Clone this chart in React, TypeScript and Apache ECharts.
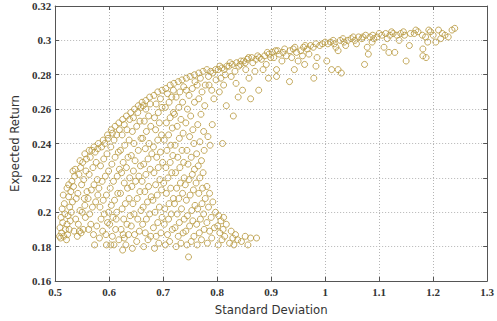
import React, { useEffect, useRef } from "react";
import * as echarts from "echarts";

// Portfolio simulations: [standard deviation, expected return]
const leftLobe: [number, number][] = [
  [0.508,0.186],[0.51,0.185],[0.512,0.188],[0.509,0.191],[0.514,0.194],[0.511,0.197],[0.516,0.186],[0.518,0.199],[0.513,0.202],[0.517,0.205],[0.519,0.19],[0.515,0.21],
  [0.521,0.184],[0.523,0.187],[0.526,0.19],[0.522,0.193],[0.528,0.195],[0.524,0.198],[0.53,0.2],[0.527,0.203],[0.532,0.206],[0.525,0.209],[0.529,0.212],[0.534,0.215],[0.531,0.218],[0.536,0.221],[0.538,0.196],[0.535,0.189],[0.539,0.208],[0.533,0.224],[0.522,0.214],
  [0.541,0.186],[0.545,0.189],[0.548,0.188],[0.552,0.19],[0.543,0.193],[0.55,0.2],[0.546,0.201],[0.555,0.204],[0.542,0.211],[0.549,0.216],[0.553,0.219],[0.544,0.222],[0.557,0.224],[0.547,0.226],[0.551,0.229],[0.558,0.231],[0.556,0.197],[0.559,0.212],[0.554,0.208],
  [0.573,0.181],[0.562,0.19],[0.566,0.193],[0.571,0.187],[0.577,0.192],[0.564,0.199],[0.569,0.203],[0.575,0.206],[0.561,0.208],[0.567,0.213],[0.572,0.216],[0.578,0.219],[0.563,0.222],[0.57,0.226],[0.576,0.229],[0.565,0.232],[0.574,0.235],[0.579,0.237],[0.568,0.236],[0.579,0.21],
  [0.582,0.185],[0.588,0.189],[0.594,0.187],[0.585,0.196],[0.591,0.199],[0.597,0.194],[0.583,0.203],[0.589,0.207],[0.595,0.21],[0.581,0.214],[0.587,0.218],[0.593,0.221],[0.599,0.224],[0.584,0.227],[0.59,0.231],[0.596,0.234],[0.586,0.238],[0.592,0.24],[0.598,0.243],[0.595,0.181],[0.599,0.2],
  [0.603,0.181],[0.609,0.181],[0.606,0.186],[0.612,0.19],[0.618,0.184],[0.601,0.193],[0.607,0.197],[0.614,0.2],[0.604,0.204],[0.61,0.207],[0.616,0.211],[0.602,0.214],[0.608,0.218],[0.615,0.221],[0.619,0.225],[0.605,0.228],[0.611,0.232],[0.617,0.235],[0.603,0.238],[0.609,0.242],[0.614,0.245],[0.619,0.248],[0.606,0.246],[0.613,0.196],
  [0.625,0.178],[0.631,0.181],[0.628,0.185],[0.636,0.187],[0.622,0.19],[0.633,0.193],[0.627,0.196],[0.639,0.198],[0.624,0.202],[0.63,0.205],[0.637,0.208],[0.621,0.211],[0.634,0.214],[0.628,0.217],[0.638,0.22],[0.623,0.223],[0.632,0.226],[0.626,0.229],[0.635,0.232],[0.621,0.236],[0.629,0.239],[0.637,0.242],[0.624,0.245],[0.633,0.248],[0.628,0.251],[0.638,0.254],[0.626,0.187],
  [0.643,0.179],[0.651,0.183],[0.647,0.187],[0.656,0.189],[0.641,0.192],[0.653,0.196],[0.646,0.199],[0.659,0.201],[0.644,0.205],[0.652,0.208],[0.657,0.212],[0.642,0.215],[0.649,0.218],[0.655,0.221],[0.645,0.224],[0.658,0.227],[0.648,0.23],[0.641,0.233],[0.654,0.236],[0.646,0.24],[0.659,0.243],[0.643,0.247],[0.651,0.25],[0.657,0.253],[0.645,0.255],[0.653,0.258],[0.659,0.261],
  [0.664,0.18],[0.672,0.184],[0.667,0.188],[0.677,0.186],[0.662,0.193],[0.669,0.196],[0.675,0.199],[0.663,0.203],[0.671,0.206],[0.678,0.209],[0.666,0.212],[0.673,0.215],[0.661,0.218],[0.668,0.222],[0.676,0.225],[0.664,0.228],[0.672,0.231],[0.679,0.234],[0.667,0.237],[0.674,0.24],[0.662,0.243],[0.669,0.247],[0.677,0.25],[0.665,0.253],[0.673,0.256],[0.668,0.26],[0.676,0.263],[0.663,0.262],
  [0.684,0.179],[0.692,0.182],[0.687,0.186],[0.696,0.188],[0.682,0.191],[0.69,0.194],[0.698,0.197],[0.685,0.2],[0.693,0.203],[0.681,0.207],[0.689,0.21],[0.697,0.213],[0.686,0.216],[0.694,0.219],[0.683,0.223],[0.691,0.226],[0.699,0.229],[0.688,0.232],[0.695,0.235],[0.682,0.238],[0.69,0.242],[0.697,0.245],[0.686,0.248],[0.693,0.252],[0.684,0.255],[0.691,0.258],[0.698,0.261],[0.687,0.263],[0.695,0.266],
  [0.704,0.181],[0.712,0.183],[0.708,0.187],[0.717,0.19],[0.702,0.193],[0.71,0.196],[0.715,0.199],[0.703,0.202],[0.711,0.205],[0.719,0.208],[0.706,0.211],[0.714,0.214],[0.701,0.217],[0.709,0.22],[0.716,0.223],[0.705,0.226],[0.713,0.229],[0.718,0.233],[0.707,0.236],[0.714,0.239],[0.702,0.242],[0.71,0.245],[0.717,0.249],[0.706,0.252],[0.713,0.255],[0.719,0.258],[0.704,0.261],[0.711,0.264],[0.716,0.267],[0.708,0.269],[0.719,0.271],
  [0.724,0.18],[0.733,0.182],[0.728,0.186],[0.737,0.188],[0.722,0.191],[0.73,0.194],[0.739,0.196],[0.726,0.199],[0.734,0.202],[0.721,0.205],[0.729,0.208],[0.736,0.211],[0.725,0.214],[0.732,0.217],[0.739,0.22],[0.723,0.223],[0.731,0.226],[0.738,0.229],[0.727,0.232],[0.735,0.236],[0.722,0.239],[0.73,0.243],[0.737,0.246],[0.726,0.25],[0.733,0.254],[0.721,0.257],[0.729,0.261],[0.736,0.264],[0.724,0.267],[0.731,0.27],[0.738,0.273],
  [0.747,0.174],[0.744,0.181],[0.752,0.183],[0.757,0.186],[0.742,0.189],[0.749,0.192],[0.755,0.195],[0.745,0.198],[0.753,0.201],[0.759,0.204],[0.743,0.207],[0.75,0.21],[0.756,0.213],[0.741,0.216],[0.748,0.219],[0.754,0.222],[0.758,0.225],[0.746,0.228],[0.752,0.232],[0.744,0.236],[0.757,0.24],[0.749,0.244],[0.755,0.248],[0.742,0.252],[0.751,0.256],[0.745,0.26],[0.758,0.264],[0.748,0.268],[0.754,0.272],[0.743,0.271],[0.759,0.276],
  [0.763,0.181],[0.771,0.184],[0.767,0.188],[0.776,0.19],[0.762,0.193],[0.769,0.196],[0.775,0.199],[0.764,0.202],[0.772,0.205],[0.778,0.208],[0.766,0.211],[0.773,0.214],[0.761,0.217],[0.768,0.22],[0.774,0.223],[0.765,0.227],[0.771,0.23],[0.762,0.234],[0.776,0.236],[0.768,0.241],[0.775,0.247],[0.764,0.251],[0.77,0.257],[0.777,0.262],[0.766,0.266],[0.772,0.27],[0.778,0.274],[0.763,0.274],[0.769,0.278],
];

// Lower-right tail of the low-return branch
const lowerTail: [number, number][] = [
  [0.782,0.182],[0.79,0.185],[0.786,0.189],[0.795,0.191],[0.781,0.194],[0.789,0.197],[0.797,0.2],[0.784,0.203],[0.792,0.206],[0.786,0.211],[0.781,0.215],
  [0.787,0.239],[0.783,0.244],[0.791,0.251],[0.81,0.24],
  [0.802,0.181],[0.809,0.184],[0.805,0.188],[0.814,0.186],[0.801,0.192],[0.811,0.19],[0.807,0.195],[0.817,0.193],[0.803,0.198],[0.812,0.197],
  [0.823,0.182],[0.829,0.185],[0.834,0.187],[0.826,0.189],[0.838,0.184],[0.831,0.181],
  [0.845,0.183],[0.852,0.186],[0.857,0.181],[0.862,0.185],[0.873,0.185],
];

// Upper branch below the frontier
const upperBranch: [number, number][] = [
  [0.785,0.274],[0.79,0.271],[0.794,0.266],[0.798,0.277],[0.784,0.279],[0.792,0.281],[0.797,0.283],[0.788,0.282],
  [0.817,0.262],[0.804,0.27],[0.812,0.274],[0.807,0.278],[0.815,0.28],[0.802,0.283],[0.809,0.284],[0.818,0.285],[0.813,0.283],
  [0.83,0.256],[0.839,0.267],[0.835,0.275],[0.826,0.279],[0.833,0.282],[0.822,0.285],[0.828,0.286],[0.836,0.287],[0.84,0.285],
  [0.859,0.278],[0.847,0.271],[0.853,0.283],[0.843,0.286],[0.849,0.288],[0.856,0.289],[0.852,0.287],
  [0.862,0.266],[0.877,0.271],[0.87,0.282],[0.866,0.287],[0.872,0.289],[0.878,0.29],[0.864,0.29],
  [0.895,0.278],[0.885,0.283],[0.891,0.286],[0.882,0.289],[0.888,0.291],[0.896,0.292],[0.899,0.29],
  [0.91,0.283],[0.91,0.279],[0.934,0.276],[0.943,0.283],[0.95,0.288],[0.905,0.29],[0.915,0.292],[0.922,0.293],[0.928,0.291],[0.935,0.294],[0.941,0.295],[0.947,0.293],[0.92,0.288],[0.902,0.293],[0.938,0.29],[0.912,0.294],
  [0.979,0.278],[0.983,0.285],[0.985,0.29],[0.962,0.286],[0.955,0.294],[0.96,0.296],[0.967,0.295],[0.973,0.297],[0.978,0.296],[0.99,0.297],[0.995,0.298],[0.97,0.292],[0.958,0.291],
  [1.003,0.288],[1.012,0.283],[1.024,0.283],[1.03,0.281],[1.024,0.294],[1.005,0.298],[1.01,0.299],[1.017,0.298],[1.028,0.3],[1.035,0.299],[1.042,0.3],[1.048,0.301],[1.02,0.296],[1.038,0.297],
  [1.073,0.286],[1.078,0.296],[1.08,0.292],[1.055,0.3],[1.062,0.302],[1.068,0.301],[1.075,0.303],[1.083,0.302],[1.09,0.301],[1.096,0.302],[1.058,0.298],[1.087,0.299],
  [1.109,0.296],[1.118,0.293],[1.129,0.293],[1.105,0.303],[1.112,0.304],[1.12,0.303],[1.126,0.304],[1.133,0.303],[1.14,0.304],[1.147,0.303],[1.115,0.301],[1.137,0.3],
  [1.15,0.288],[1.156,0.297],[1.181,0.295],[1.181,0.291],[1.187,0.29],[1.19,0.299],[1.158,0.304],[1.165,0.304],[1.172,0.305],[1.18,0.303],[1.186,0.302],[1.195,0.305],
  [1.205,0.299],[1.21,0.306],[1.217,0.304],[1.222,0.303],[1.228,0.302],[1.235,0.306],[1.24,0.307],[1.2,0.303],[1.214,0.301],
];

// Portfolios lying on the efficient frontier
const frontier: [number, number][] = [
  [0.525,0.216],[0.537,0.225],[0.546,0.23],[0.555,0.234],[0.563,0.236],[0.572,0.238],[0.58,0.24],[0.589,0.242],[0.597,0.245],[0.604,0.248],[0.611,0.25],[0.618,0.252],[0.625,0.254],[0.632,0.256],[0.64,0.258],[0.647,0.26],[0.654,0.262],[0.661,0.264],[0.668,0.265],[0.675,0.267],[0.683,0.268],[0.69,0.27],[0.698,0.271],[0.705,0.272],[0.713,0.274],[0.72,0.275],[0.728,0.276],[0.735,0.277],[0.743,0.278],[0.75,0.279],[0.758,0.28],[0.766,0.281],[0.774,0.282],[0.781,0.283],
  [0.805,0.285],[0.824,0.287],[0.844,0.288],[0.858,0.29],[0.875,0.291],[0.893,0.293],[0.908,0.294],[0.925,0.295],[0.944,0.296],[0.963,0.297],[0.983,0.298],[1.0,0.299],[1.015,0.3],[1.033,0.301],[1.052,0.302],[1.07,0.302],[1.088,0.303],[1.1,0.304],[1.123,0.305],[1.145,0.305],[1.168,0.306],[1.192,0.306],
];

const xRange = { min: 0.5, max: 1.3, step: 0.1 };
const yRange = { min: 0.16, max: 0.32, step: 0.02 };

const markerColor = "#b89a42";
const tickFont = "Liberation Serif";
const nameFont = "'DejaVu Sans Condensed', 'Liberation Sans Narrow', 'Roboto Condensed', 'DejaVu Sans', sans-serif";

export default function App() {
  const ref = useRef<HTMLDivElement>(null);

  useEffect(() => {
    if (!ref.current) return;
    const chart = echarts.init(ref.current, undefined, { renderer: "svg" });
    const points = [...leftLobe, ...lowerTail, ...upperBranch, ...frontier];

    const frameLine = { show: true, lineStyle: { color: "#555", width: 1 } };
    const gridLine = { show: true, lineStyle: { color: "#b5b5b5", type: [1, 2] as number[], width: 1 } };
    const innerTick = { show: true, inside: true, length: 4, lineStyle: { color: "#555" } };

    chart.setOption({
      animation: false,
      backgroundColor: "#fff",
      grid: { left: 44, right: 9, top: 6, bottom: 35, containLabel: false },
      xAxis: [
        {
          type: "value",
          min: xRange.min,
          max: xRange.max,
          interval: xRange.step,
          name: "Standard Deviation",
          nameLocation: "middle",
          nameGap: 22,
          nameTextStyle: { fontFamily: nameFont, fontSize: 13, color: "#333" },
          axisLine: frameLine,
          axisTick: innerTick,
          axisLabel: { fontFamily: tickFont, fontSize: 11, color: "#333", fontWeight: "bold", margin: 5 },
          splitLine: gridLine,
        },
        {
          type: "value",
          position: "top",
          min: xRange.min,
          max: xRange.max,
          interval: xRange.step,
          axisLine: frameLine,
          axisTick: innerTick,
          axisLabel: { show: false },
          splitLine: { show: false },
        },
      ],
      yAxis: [
        {
          type: "value",
          min: yRange.min,
          max: yRange.max,
          interval: yRange.step,
          name: "Expected Return",
          nameLocation: "middle",
          nameGap: 33,
          nameTextStyle: { fontFamily: nameFont, fontSize: 13, color: "#333" },
          axisLine: frameLine,
          axisTick: innerTick,
          axisLabel: { fontFamily: tickFont, fontSize: 11, color: "#333", fontWeight: "bold", margin: 4 },
          splitLine: gridLine,
        },
        {
          type: "value",
          position: "right",
          min: yRange.min,
          max: yRange.max,
          interval: yRange.step,
          axisLine: frameLine,
          axisTick: innerTick,
          axisLabel: { show: false },
          splitLine: { show: false },
        },
      ],
      series: [
        {
          type: "scatter",
          xAxisIndex: 0,
          yAxisIndex: 0,
          data: points,
          symbol: "circle",
          symbolSize: 6,
          itemStyle: {
            color: "rgba(255,255,255,0)",
            borderColor: markerColor,
            borderWidth: 1,
            opacity: 0.85,
          },
        },
      ],
    });

    return () => chart.dispose();
  }, []);

  return (
    <div
      ref={ref}
      style={{ position: "absolute", left: 0, top: 0, width: 497, height: 321 }}
    />
  );
}
